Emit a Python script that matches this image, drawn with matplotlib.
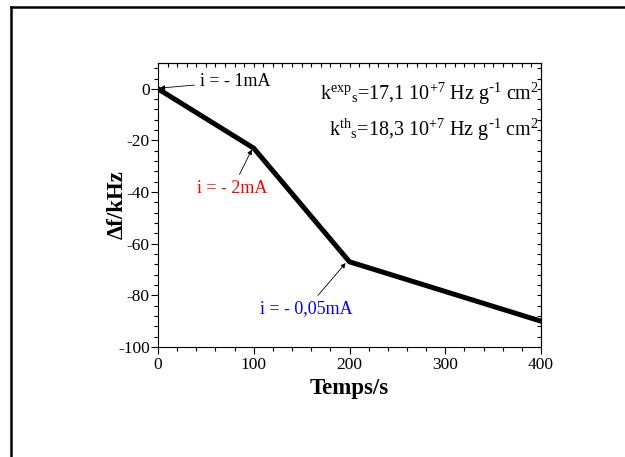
import matplotlib
matplotlib.use("Agg")
import matplotlib.pyplot as plt
from matplotlib.lines import Line2D
from matplotlib.ticker import MultipleLocator

plt.rcParams['font.family'] = ['Liberation Serif', 'DejaVu Serif']
plt.rcParams['mathtext.default'] = 'regular'
plt.rcParams['axes.unicode_minus'] = False

# data
temps = [0, 100, 200, 400]
delta_f = [0, -23, -67, -90]

# labels for the current steps
current_labels = ["i = - 1mA", "i = - 2mA", "i = - 0,05mA"]
current_colors = ["black", "red", "blue"]
label_pos = [(44, 2.8), (78, -38.5), (155, -85.2)]
arrow_tips = [(2, 0.3), (98, -23.5), (196, -67.5)]

k_lines = [r"k$^{exp}$$_s$=17,1 10$^{+7}$ Hz g$^{\text{-}1}$ cm$^{2}$",
           r"k$^{th}$$_s$=18,3 10$^{+7}$ Hz g$^{\text{-}1}$ cm$^{2}$"]

fig = plt.figure(figsize=(6.25, 4.57), dpi=100)
ax = fig.add_axes([0.2528, 0.2407, 0.6128, 0.6214])

ax.plot(temps, delta_f, color='black', lw=3.6, solid_joinstyle='miter')

ax.set_xlim(0, 400)
ax.set_ylim(-100, 10)
ax.xaxis.set_major_locator(MultipleLocator(100))
ax.xaxis.set_minor_locator(MultipleLocator(20))
ax.yaxis.set_major_locator(MultipleLocator(20))
ax.yaxis.set_minor_locator(MultipleLocator(4))
ax.tick_params(which='both', direction='out', labelsize=12.5, width=0.8)
ax.tick_params(which='major', length=5)
ax.tick_params(which='minor', length=3)
ax.tick_params(axis='x', pad=2)
ax.tick_params(axis='y', pad=1)
for s in ax.spines.values():
    s.set_linewidth(0.8)

# mirrored axes with inward ticks
top = ax.secondary_xaxis('top')
top.xaxis.set_major_locator(MultipleLocator(10))
top.tick_params(direction='in', length=3, width=0.8, labeltop=False)
right = ax.secondary_yaxis('right')
right.yaxis.set_major_locator(MultipleLocator(4))
right.tick_params(direction='in', length=3, width=0.8, labelright=False)
top.spines['top'].set_linewidth(0.8)
right.spines['right'].set_linewidth(0.8)

ax.set_xlabel("Temps/s", fontsize=16.5, fontweight='bold', labelpad=4)
ax.set_ylabel("Δf/kHz", fontsize=16.5, fontweight='bold')
ax.yaxis.set_label_coords(-0.078, 0.5)

for lab, col, pos, tip in zip(current_labels, current_colors, label_pos, arrow_tips):
    ha = 'left' if lab == current_labels[0] else 'center'
    ax.annotate(lab, xy=tip, xytext=pos, color=col, fontsize=13,
                ha=ha, va='center',
                arrowprops=dict(arrowstyle='-|>', color='black', lw=0.6,
                                mutation_scale=7, shrinkA=2, shrinkB=0))

ax.text(0.995, 0.89, k_lines[0], transform=ax.transAxes, fontsize=14.5,
        ha='right', va='center')
ax.text(0.995, 0.765, k_lines[1], transform=ax.transAxes, fontsize=14.5,
        ha='right', va='center')

# page frame
fig.add_artist(Line2D([0.0176, 1.0], [0.985, 0.985], color='black', lw=1.8,
                      transform=fig.transFigure))
fig.add_artist(Line2D([0.0176, 0.0176], [0.0, 0.985], color='black', lw=1.8,
                      transform=fig.transFigure))

fig.savefig("out.png", dpi=100)
